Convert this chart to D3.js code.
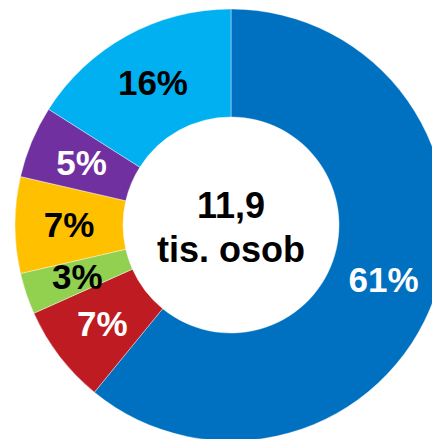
<!DOCTYPE html>
<html>
<head>
<meta charset="utf-8">
<style>
  body { margin: 0; background: #fff; }
  text { font-family: "Liberation Sans", Arial, sans-serif; font-weight: bold; }
</style>
</head>
<body>
<svg width="432" height="439"></svg>
<script src="https://d3js.org/d3.v7.min.js"></script>
<script>
// share of each group, clockwise from 12 o'clock
var shares = [60.9, 7.4, 3.1, 7.2, 5.4, 16.0];
var labels = ["61%", "7%", "3%", "7%", "5%", "16%"];
var colors = ["#0070C0", "#BE1B22", "#92D050", "#FFC000", "#7030A0", "#00B0F0"];
var labelColors = ["#fff", "#fff", "#000", "#000", "#fff", "#000"];
var centerLines = ["11,9", "tis. osob"];

var svg = d3.select("svg");
var cx = 231, cy = 225;
var outerR = 216, innerR = 108;

var g = svg.append("g").attr("transform", "translate(" + cx + "," + cy + ")");

var pie = d3.pie().sort(null).value(function(d) { return d; });
var arc = d3.arc().innerRadius(innerR).outerRadius(outerR);

var arcs = pie(shares);

g.selectAll("path")
  .data(arcs)
  .enter().append("path")
  .attr("d", arc)
  .attr("fill", function(d, i) { return colors[i]; })
  .attr("stroke", "#fff")
  .attr("stroke-width", 0.4);

g.selectAll("text.lbl")
  .data(arcs)
  .enter().append("text")
  .attr("class", "lbl")
  .attr("transform", function(d) { return "translate(" + arc.centroid(d) + ")"; })
  .attr("text-anchor", "middle")
  .attr("dy", "0.35em")
  .attr("font-size", 35)
  .attr("fill", function(d, i) { return labelColors[i]; })
  .text(function(d, i) { return labels[i]; });

g.selectAll("text.center")
  .data(centerLines)
  .enter().append("text")
  .attr("class", "center")
  .attr("text-anchor", "middle")
  .attr("y", function(d, i) { return -7 + i * 44; })
  .attr("font-size", 36)
  .attr("fill", "#000")
  .text(function(d) { return d; });
</script>
</body>
</html>
